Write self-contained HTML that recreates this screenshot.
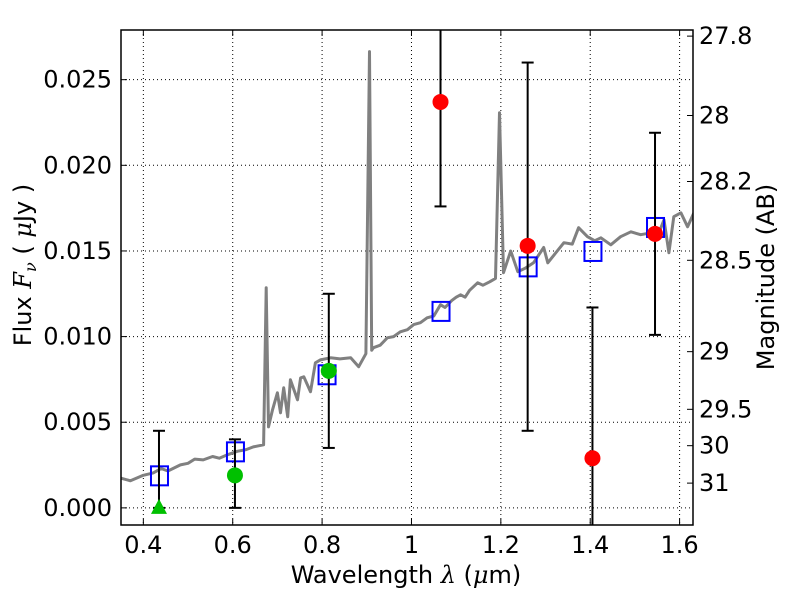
<!DOCTYPE html>
<html><head><meta charset="utf-8"><style>
body{margin:0;background:#fff;width:800px;height:600px;overflow:hidden}
svg{font-family:"DejaVu Sans","Liberation Sans",sans-serif}
</style></head><body>
<svg id="chart" width="800" height="600" xmlns="http://www.w3.org/2000/svg"></svg>
<script>
const specLam=[0.348,0.371,0.400,0.422,0.440,0.455,0.483,0.500,0.515,0.534,0.555,0.570,0.588,0.610,0.630,0.646,0.669,0.675,0.680,0.689,0.700,0.707,0.714,0.723,0.729,0.745,0.752,0.759,0.774,0.785,0.796,0.819,0.840,0.864,0.882,0.898,0.906,0.911,0.915,0.930,0.946,0.960,0.975,0.991,1.005,1.020,1.035,1.050,1.065,1.075,1.090,1.100,1.110,1.120,1.130,1.148,1.160,1.175,1.188,1.197,1.206,1.222,1.238,1.255,1.273,1.296,1.305,1.320,1.341,1.360,1.374,1.394,1.410,1.424,1.446,1.468,1.491,1.513,1.536,1.550,1.565,1.576,1.587,1.603,1.618,1.632];
const specFlux=[0.00175,0.00158,0.00190,0.00204,0.00230,0.00215,0.00251,0.00260,0.00285,0.00280,0.00300,0.00290,0.00310,0.00330,0.00340,0.00356,0.00368,0.01285,0.00473,0.00572,0.00672,0.00555,0.00701,0.00532,0.00748,0.00631,0.00759,0.00765,0.00678,0.00847,0.00864,0.00876,0.00870,0.00876,0.00824,0.0090,0.02664,0.0092,0.00935,0.00950,0.00993,0.01000,0.01028,0.01040,0.01070,0.01081,0.01110,0.01120,0.01186,0.01170,0.01210,0.01230,0.01244,0.01230,0.01270,0.01314,0.01300,0.01320,0.01340,0.02307,0.01373,0.01500,0.01379,0.01400,0.01431,0.01520,0.01431,0.01480,0.01548,0.01540,0.01636,0.01583,0.01560,0.01577,0.01536,0.01583,0.01612,0.01595,0.01606,0.01580,0.01682,0.01489,0.01700,0.01723,0.01641,0.01723];
const sqLam=[0.435,0.605,0.81,1.065,1.26,1.405,1.545];
const sqFlux=[0.0019,0.0033,0.0078,0.0115,0.0141,0.0150,0.0164];
const greenLam=[0.605,0.815];
const greenFlux=[0.0019,0.0080];
const greenLo=[0.0,0.0035];
const greenHi=[0.0040,0.0125];
const triLam=[0.435];
const triFlux=[0.0];
const triHi=[0.0045];
const redLam=[1.065,1.26,1.405,1.545];
const redFlux=[0.0237,0.0153,0.0029,0.0160];
const redLo=[0.0176,0.0045,-0.0012,0.0101];
const redHi=[0.0300,0.0260,0.0117,0.0219];
const xTicks=[0.4,0.6,0.8,1.0,1.2,1.4,1.6];
const xTickLabels=["0.4","0.6","0.8","1","1.2","1.4","1.6"];
const yTicks=[0,0.005,0.010,0.015,0.020,0.025];
const yTickLabels=["0.000","0.005","0.010","0.015","0.020","0.025"];
const magTicks=[27.8,28,28.2,28.5,29,29.5,30,31];

const L=121,R=693,T=30,B=525;
const x0=0.35,x1=1.63,y0=-0.001,y1=0.0279;
const X=v=>L+(v-x0)/(x1-x0)*(R-L);
const Y=v=>B-(v-y0)/(y1-y0)*(B-T);
const svg=document.getElementById('chart');
const NS="http://www.w3.org/2000/svg";
function mk(tag,attrs,parent){const e=document.createElementNS(NS,tag);for(const k in attrs)e.setAttribute(k,attrs[k]);(parent||svg).appendChild(e);return e;}

const clip=mk('clipPath',{id:'pc'});mk('rect',{x:L,y:T,width:R-L,height:B-T},clip);
const grid=mk('g',{});


xTicks.forEach((t,i)=>{
  mk('line',{x1:X(t),x2:X(t),y1:T,y2:B,stroke:'#000','stroke-width':1,'stroke-dasharray':'1,3'},grid);
  mk('line',{x1:X(t),x2:X(t),y1:B,y2:B-6,stroke:'#000'},grid);
  mk('line',{x1:X(t),x2:X(t),y1:T,y2:T+6,stroke:'#000'},grid);
  const tx=mk('text',{x:X(t),y:B+28,'font-size':24,'text-anchor':'middle'});
  
  
  tx.textContent=xTickLabels[i];
});
yTicks.forEach((t,i)=>{
  mk('line',{x1:L,x2:R,y1:Y(t),y2:Y(t),stroke:'#000','stroke-width':1,'stroke-dasharray':'1,3'},grid);
  mk('line',{x1:L,x2:L+6,y1:Y(t),y2:Y(t),stroke:'#000'},grid);
  const tx=mk('text',{x:L-9,y:Y(t)+8,'font-size':24,'text-anchor':'end'});
  
  
  tx.textContent=yTickLabels[i];
});
magTicks.forEach(m=>{
  const f=Math.pow(10,(23.9-m)/2.5);
  const y=Y(f);
  mk('line',{x1:R,x2:R-6,y1:y,y2:y,stroke:'#000'});
  const tx=mk('text',{x:R+6,y:y+8,'font-size':24});
  
  
  tx.textContent=String(m);
});
const pg=mk('g',{'clip-path':'url(#pc)'});
let d=specLam.map((l,i)=>(i?'L':'M')+X(l).toFixed(1)+','+Y(specFlux[i]).toFixed(1)).join(' ');
const sp=mk('path',{d:d,fill:'none',stroke:'#808080','stroke-width':3,'stroke-linejoin':'round'},pg);


function err(l,lo,hi){
  mk('line',{x1:X(l),x2:X(l),y1:Y(lo),y2:Y(hi),stroke:'#000','stroke-width':2},pg);
  mk('line',{x1:X(l)-6,x2:X(l)+6,y1:Y(lo),y2:Y(lo),stroke:'#000','stroke-width':2},pg);
  mk('line',{x1:X(l)-6,x2:X(l)+6,y1:Y(hi),y2:Y(hi),stroke:'#000','stroke-width':2},pg);
}
sqLam.forEach((l,i)=>{
  const r=mk('rect',{x:X(l)-8,y:Y(sqFlux[i])-9,width:17,height:19,fill:'none',stroke:'#0000ff','stroke-width':2},pg);
  
  
});
triLam.forEach((l,i)=>{
  err(l,triFlux[i],triHi[i]);
  const x=X(l),y=Y(triFlux[i]);
  const p=mk('polygon',{points:`${x},${y-9} ${x-8},${y+6} ${x+8},${y+6}`,fill:'#00c000'},pg);
  
  
});
greenLam.forEach((l,i)=>{
  err(l,greenLo[i],greenHi[i]);
  const c=mk('circle',{cx:X(l),cy:Y(greenFlux[i]),r:8,fill:'#00c000'},pg);
  
  
});
redLam.forEach((l,i)=>{
  err(l,redLo[i],redHi[i]);
  const c=mk('circle',{cx:X(l),cy:Y(redFlux[i]),r:8,fill:'#ff0000'},pg);
  
  
});
const fr=mk('rect',{x:L,y:T,width:R-L,height:B-T,fill:'none',stroke:'#000','stroke-width':1.5});


</script>
<svg style="position:absolute;left:0;top:0;white-space:pre" width="800" height="600" xmlns="http://www.w3.org/2000/svg" font-family="DejaVu Sans, Liberation Sans, sans-serif">
<text x="406" y="583" font-size="24" text-anchor="middle">Wavelength  <tspan font-family="DejaVu Serif, serif" font-style="italic">λ</tspan> (<tspan font-family="DejaVu Serif, serif" font-style="italic">μ</tspan>m)</text>
<text transform="translate(31,265) rotate(-90)" font-size="24" text-anchor="middle">Flux  <tspan font-family="DejaVu Serif, serif" font-style="italic">F<tspan font-size="16" dy="5">ν</tspan></tspan><tspan dy="-5">   (  </tspan><tspan font-family="DejaVu Serif, serif" font-style="italic">μ</tspan>Jy )</text>
<text transform="translate(774,277) rotate(-90)" font-size="24" text-anchor="middle">Magnitude (AB)</text>
</svg>
</body></html>
